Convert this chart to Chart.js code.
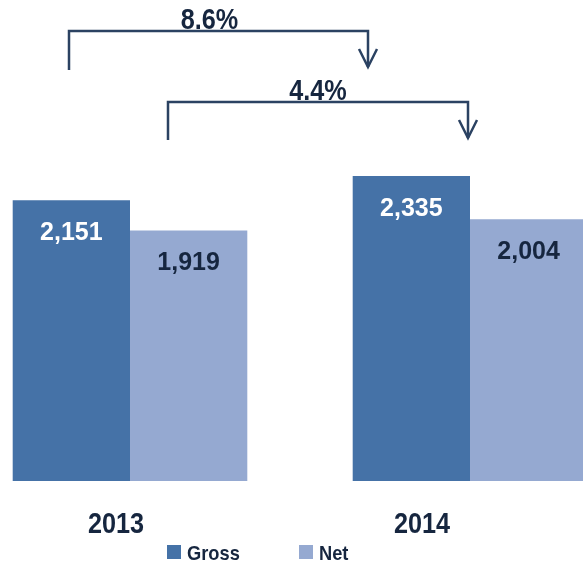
<!DOCTYPE html>
<html>
<head>
<meta charset="utf-8">
<script src="https://cdn.jsdelivr.net/npm/chart.js@4/dist/chart.umd.min.js"></script>
<style>
    html, body { margin: 0; padding: 0; background: #fff; overflow: hidden; }
    #wrap { position: absolute; left: -40px; top: 0; width: 680px; height: 563px; }
</style>
</head>
<body>
<div id="wrap"><canvas id="grafico" width="680" height="563"></canvas></div>
<script>
const categories = ['2013', '2014'];
const grossValues = [2151, 2335];
const netValues = [1919, 2004];
const seriesNames = ['Gross', 'Net'];
const growthLabels = ['8.6%', '4.4%'];

const colorGross = '#4572A7';
const colorNet = '#95A9D1';
const colorText = '#16263F';
const colorArrow = '#2B4262';
const fontFamily = "'Liberation Sans', sans-serif";

// arrow layout: x offsets from category centre, y in axis units
const arrows = [
    { from: 0, fromDx: -61, to: 1, toDx: -102, top: 3446, startBottom: 3148, endBottom: 3171, label: growthLabels[0], labelDx: -9 },
    { from: 0, fromDx: 38, to: 1, toDx: -2, top: 2903, startBottom: 2612, endBottom: 2627, label: growthLabels[1], labelDx: 0 }
];

// text squeezed horizontally, the original font is narrower
function narrowText(ctx, text, x, y, align) {
    ctx.save();
    ctx.translate(x, y);
    ctx.scale(0.87, 1);
    ctx.textAlign = align;
    ctx.fillText(text, 0, 0);
    ctx.restore();
}

const extras = {
    id: 'extras',
    afterDatasetsDraw(chart) {
        const ctx = chart.ctx;
        const x = chart.scales.x;
        const y = chart.scales.y;

        // value labels inside the bars
        ctx.save();
        ctx.font = 'bold 25px ' + fontFamily;
        ctx.textAlign = 'center';
        ctx.textBaseline = 'alphabetic';
        chart.data.datasets.forEach(function(ds, i) {
            chart.getDatasetMeta(i).data.forEach(function(bar, j) {
                ctx.fillStyle = i === 0 ? '#ffffff' : colorText;
                ctx.fillText(ds.data[j].toLocaleString('en-US'), bar.x, bar.y + 40);
            });
        });
        ctx.restore();

        // growth arrows
        ctx.save();
        ctx.strokeStyle = colorArrow;
        ctx.lineWidth = 2.5;
        arrows.forEach(function(a) {
            const x1 = x.getPixelForValue(a.from) + a.fromDx;
            const x2 = x.getPixelForValue(a.to) + a.toDx;
            const yt = y.getPixelForValue(a.top);
            const y1 = y.getPixelForValue(a.startBottom);
            const y2 = y.getPixelForValue(a.endBottom);
            ctx.beginPath();
            ctx.moveTo(x1, y1);
            ctx.lineTo(x1, yt);
            ctx.lineTo(x2, yt);
            ctx.lineTo(x2, y2);
            ctx.stroke();
            ctx.beginPath();
            ctx.moveTo(x2 - 9, y2 - 18);
            ctx.lineTo(x2, y2);
            ctx.lineTo(x2 + 9, y2 - 18);
            ctx.stroke();

            ctx.fillStyle = colorText;
            ctx.font = 'bold 29px ' + fontFamily;
            narrowText(ctx, a.label, (x1 + x2) / 2 + a.labelDx, yt - 2, 'center');
        });
        ctx.restore();

        // category labels
        ctx.save();
        ctx.fillStyle = colorText;
        ctx.font = 'bold 29px ' + fontFamily;
        const labelDx = [-14, -48];
        categories.forEach(function(c, i) {
            narrowText(ctx, c, x.getPixelForValue(i) + labelDx[i], 533, 'center');
        });

        // legend
        ctx.font = 'bold 21px ' + fontFamily;
        const legendX = [207, 339];
        chart.data.datasets.forEach(function(ds, i) {
            ctx.fillStyle = ds.backgroundColor;
            ctx.fillRect(legendX[i], 545, 14, 14);
            ctx.fillStyle = colorText;
            narrowText(ctx, ds.label, legendX[i] + 20, 560, 'left');
        });
        ctx.restore();
    }
};

document.addEventListener('DOMContentLoaded', function() {
    const ctx = document.getElementById('grafico').getContext('2d');
    new Chart(ctx, {
        type: 'bar',
        data: {
            labels: categories,
            datasets: [
                { label: seriesNames[0], data: grossValues, backgroundColor: colorGross },
                { label: seriesNames[1], data: netValues, backgroundColor: colorNet }
            ]
        },
        options: {
            responsive: false,
            animation: false,
            layout: { padding: { top: 24, bottom: 82, left: 0, right: 0 } },
            datasets: { bar: { categoryPercentage: 0.69, barPercentage: 1.0 } },
            scales: {
                x: { display: false },
                y: { display: false, min: 0, max: 3500 }
            },
            plugins: {
                legend: { display: false },
                tooltip: { enabled: false }
            }
        },
        plugins: [extras]
    });
});
</script>
</body>
</html>
